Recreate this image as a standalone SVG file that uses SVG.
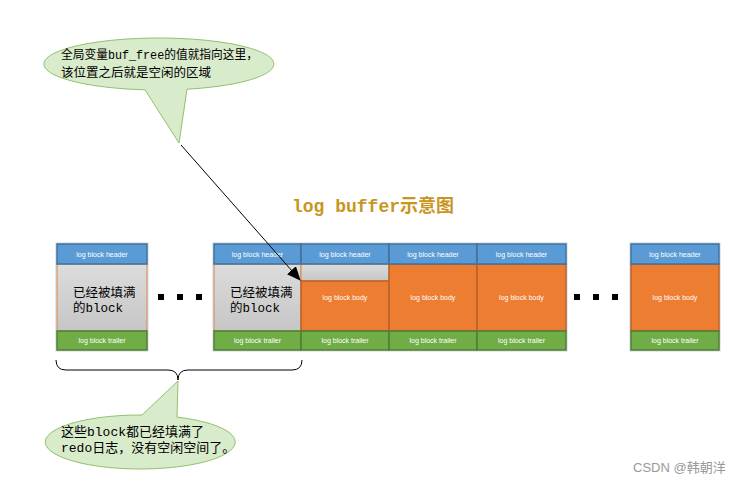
<svg xmlns="http://www.w3.org/2000/svg" width="746" height="484" viewBox="0 0 746 484">
<style>
.hd{fill:#5B9BD5;stroke:#41719C;stroke-width:1.5}
.bd{fill:#ED7D31;stroke:#B8602A;stroke-width:1.5}
.gy{fill:url(#g);stroke:#D8844A;stroke-width:1}
.tr{fill:#70AD47;stroke:#507E32;stroke-width:1.5}
.frame{fill:none;stroke:#C8D4E0;stroke-width:1}
.sm{font-family:"Liberation Sans",Arial,sans-serif;font-size:7px;fill:#fff;text-anchor:middle}
.cn{font-family:"Liberation Mono","Noto Sans CJK SC",monospace;fill:#000}
.dot{fill:#000}
.co{fill:#D8EBCB;stroke:#93BF6E;stroke-width:1}
</style>
<defs>
<linearGradient id="g" x1="0" y1="0" x2="0" y2="1">
<stop offset="0" stop-color="#DCDCDC"/>
<stop offset="1" stop-color="#C6C6C6"/>
</linearGradient>
<marker id="ah" markerWidth="14" markerHeight="12" refX="13" refY="6" orient="auto" markerUnits="userSpaceOnUse">
<path d="M0,0 L14,6 L0,12 Z" fill="#000"/>
</marker>
</defs>
<rect width="746" height="484" fill="#fff"/>

<g id="callout-top">
<path class="co" d="M187,89.2 A115,26 0 1 0 145,89.8 L179,143 Z"/>
<text class="cn" font-size="12.5" x="61" y="59" textLength="197" lengthAdjust="spacingAndGlyphs">全局变量buf_free的值就指向这里，</text>
<text class="cn" font-size="12.5" x="61" y="77">该位置之后就是空闲的区域</text>
</g>

<g id="title">
<text x="292" y="212" font-family="'Liberation Mono','Noto Sans CJK SC',monospace" font-size="18" font-weight="bold" fill="#C8961E">log buffer示意图</text>
</g>

<g id="block-1">
<rect class="frame" x="56" y="243" width="92" height="108"/>
<rect class="gy" x="57" y="264" width="90" height="67"/>
<rect class="hd" x="57" y="244" width="90" height="20"/>
<rect class="tr" x="57" y="331" width="90" height="19"/>
<text class="sm" x="102" y="256.5">log block header</text>
<text class="sm" x="102" y="343">log block trailer</text>
<text class="cn" font-size="12.5" x="73" y="297">已经被填满</text>
<text class="cn" font-size="12.5" x="73" y="312">的block</text>
</g>

<g id="dots-1">
<rect class="dot" x="158" y="294" width="6" height="6"/>
<rect class="dot" x="177" y="294" width="6" height="6"/>
<rect class="dot" x="196" y="294" width="6" height="6"/>
</g>

<g id="main-group">
<rect class="frame" x="213" y="243" width="354" height="108"/>
</g>

<g id="block-2">
<rect class="gy" x="214" y="264" width="87" height="67"/>
<rect class="hd" x="214" y="244" width="87" height="20"/>
<rect class="tr" x="214" y="331" width="87" height="19"/>
<text class="sm" x="257.5" y="256.5">log block header</text>
<text class="sm" x="257.5" y="343">log block trailer</text>
<text class="cn" font-size="12.5" x="230" y="297">已经被填满</text>
<text class="cn" font-size="12.5" x="230" y="312">的block</text>
</g>

<g id="block-3">
<rect class="gy" x="301" y="264" width="88" height="17"/>
<rect class="bd" x="301" y="281" width="88" height="50"/>
<rect class="hd" x="301" y="244" width="88" height="20"/>
<rect class="tr" x="301" y="331" width="88" height="19"/>
<text class="sm" x="345" y="256.5">log block header</text>
<text class="sm" x="345" y="300">log block body</text>
<text class="sm" x="345" y="343">log block trailer</text>
</g>

<g id="block-4">
<rect class="bd" x="389" y="264" width="88" height="67"/>
<rect class="hd" x="389" y="244" width="88" height="20"/>
<rect class="tr" x="389" y="331" width="88" height="19"/>
<text class="sm" x="433" y="256.5">log block header</text>
<text class="sm" x="433" y="300">log block body</text>
<text class="sm" x="433" y="343">log block trailer</text>
</g>

<g id="block-5">
<rect class="bd" x="477" y="264" width="89" height="67"/>
<rect class="hd" x="477" y="244" width="89" height="20"/>
<rect class="tr" x="477" y="331" width="89" height="19"/>
<text class="sm" x="521.5" y="256.5">log block header</text>
<text class="sm" x="521.5" y="300">log block body</text>
<text class="sm" x="521.5" y="343">log block trailer</text>
</g>

<g id="dots-2">
<rect class="dot" x="574" y="294" width="6" height="6"/>
<rect class="dot" x="593" y="294" width="6" height="6"/>
<rect class="dot" x="612" y="294" width="6" height="6"/>
</g>

<g id="block-6">
<rect class="frame" x="630" y="243" width="90" height="108"/>
<rect class="bd" x="631" y="264" width="88" height="67"/>
<rect class="hd" x="631" y="244" width="88" height="20"/>
<rect class="tr" x="631" y="331" width="88" height="19"/>
<text class="sm" x="675" y="256.5">log block header</text>
<text class="sm" x="675" y="300">log block body</text>
<text class="sm" x="675" y="343">log block trailer</text>
</g>

<g id="connectors">
<line x1="181" y1="145" x2="300" y2="280" stroke="#000" stroke-width="1" marker-end="url(#ah)"/>
<path d="M56,360 Q56,370 66,370 L168,370 Q178,370 178,380 Q178,370 188,370 L292,370 Q302,370 302,360" fill="none" stroke="#000" stroke-width="1"/>
</g>

<g id="callout-bottom">
<path class="co" d="M142,415 A95,27 0 1 0 177,417.1 L178,381 Z"/>
<text class="cn" font-size="13" x="61" y="436">这些block都已经填满了</text>
<text class="cn" font-size="13" x="61" y="452">redo日志，没有空闲空间了。</text>
</g>

<g id="watermark">
<text x="633" y="472" font-family="'Liberation Sans','Noto Sans CJK SC',sans-serif" font-size="13" fill="#999">CSDN @韩朝洋</text>
</g>
</svg>
